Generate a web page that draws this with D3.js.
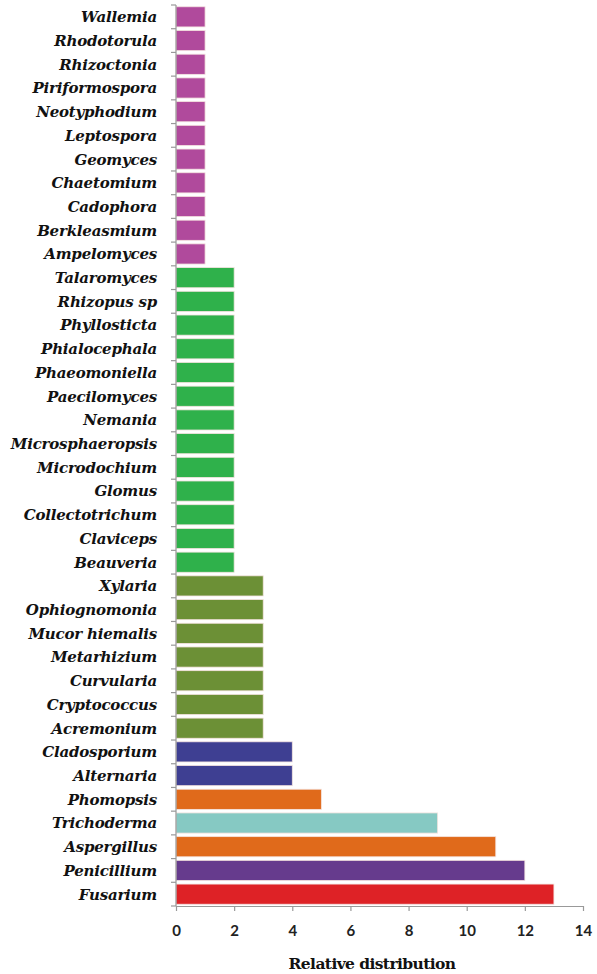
<!DOCTYPE html>
<html>
<head>
<meta charset="utf-8">
<script src="https://cdn.jsdelivr.net/npm/d3@7"></script>
<style>
  body { margin: 0; background: #fff; }
  .ylab { font-family: "DejaVu Serif", serif; font-weight: bold; font-style: italic; }
</style>
</head>
<body>
<svg id="chart"></svg>
<script>
// categories top to bottom
const genera = ["Wallemia", "Rhodotorula", "Rhizoctonia", "Piriformospora", "Neotyphodium",
  "Leptospora", "Geomyces", "Chaetomium", "Cadophora", "Berkleasmium", "Ampelomyces",
  "Talaromyces", "Rhizopus sp", "Phyllosticta", "Phialocephala", "Phaeomoniella",
  "Paecilomyces", "Nemania", "Microsphaeropsis", "Microdochium", "Glomus",
  "Collectotrichum", "Claviceps", "Beauveria",
  "Xylaria", "Ophiognomonia", "Mucor hiemalis", "Metarhizium", "Curvularia",
  "Cryptococcus", "Acremonium",
  "Cladosporium", "Alternaria", "Phomopsis", "Trichoderma", "Aspergillus",
  "Penicillium", "Fusarium"];
const values = [1, 1, 1, 1, 1, 1, 1, 1, 1, 1, 1,
  2, 2, 2, 2, 2, 2, 2, 2, 2, 2, 2, 2, 2,
  3, 3, 3, 3, 3, 3, 3,
  4, 4, 5, 9, 11, 12, 13];
const barColors = [
  "#b04a9c", "#b04a9c", "#b04a9c", "#b04a9c", "#b04a9c", "#b04a9c", "#b04a9c",
  "#b04a9c", "#b04a9c", "#b04a9c", "#b04a9c",
  "#2fb14b", "#2fb14b", "#2fb14b", "#2fb14b", "#2fb14b", "#2fb14b", "#2fb14b",
  "#2fb14b", "#2fb14b", "#2fb14b", "#2fb14b", "#2fb14b", "#2fb14b",
  "#6c9036", "#6c9036", "#6c9036", "#6c9036", "#6c9036", "#6c9036", "#6c9036",
  "#3e3f92", "#3e3f92", "#e06a1b", "#86c9c3", "#e06a1b", "#663b8d", "#de2226"];
const xTicks = [0, 2, 4, 6, 8, 10, 12, 14];

const W = 597, H = 974;
const plotLeft = 176, plotRight = 583, plotTop = 5, plotBottom = 906;

const svg = d3.select("#chart").attr("width", W).attr("height", H);

const x = d3.scaleLinear().domain([0, 14]).range([plotLeft, plotRight]);
const y = d3.scaleBand().domain(genera).range([plotTop, plotBottom]).paddingInner(0.15).paddingOuter(0.075);

// bars
svg.append("g")
  .selectAll("rect")
  .data(genera)
  .enter()
  .append("rect")
  .attr("x", x(0))
  .attr("y", d => y(d))
  .attr("width", (d, i) => x(values[i]) - x(0))
  .attr("height", y.bandwidth())
  .attr("fill", (d, i) => barColors[i])
  .attr("stroke", "#f4e3df")
  .attr("stroke-width", 0.8);

// y axis: line plus category boundary ticks
const yAxis = svg.append("g");
yAxis.append("line")
  .attr("x1", plotLeft).attr("x2", plotLeft)
  .attr("y1", plotTop).attr("y2", plotBottom)
  .attr("stroke", "#999").attr("stroke-width", 1.2);
const step = y.step();
const bounds = d3.range(genera.length + 1).map(i => plotTop + i * step);
yAxis.selectAll(".tk")
  .data(bounds)
  .enter()
  .append("line")
  .attr("x1", plotLeft - 5).attr("x2", plotLeft)
  .attr("y1", d => d).attr("y2", d => d)
  .attr("stroke", "#999").attr("stroke-width", 1.2);

yAxis.selectAll("text")
  .data(genera)
  .enter()
  .append("text")
  .attr("class", "ylab")
  .attr("x", plotLeft - 19)
  .attr("y", d => y(d) + y.bandwidth() / 2)
  .attr("dy", "0.36em")
  .attr("text-anchor", "end")
  .attr("font-size", 15)
  .attr("letter-spacing", -0.2)
  .attr("fill", "#111")
  .text(d => d);

// x axis
const xAxis = d3.axisBottom(x).tickValues(xTicks).tickSize(5).tickPadding(14).tickSizeOuter(0);
const gx = svg.append("g")
  .attr("transform", "translate(0," + plotBottom + ")")
  .call(xAxis);
gx.select(".domain").attr("stroke", "#999").attr("stroke-width", 1.2);
gx.selectAll(".tick line").attr("stroke", "#999").attr("stroke-width", 1.2);
gx.selectAll(".tick text")
  .attr("font-family", "Lato, sans-serif")
  .attr("font-weight", "bold")
  .attr("font-size", 15)
  .attr("fill", "#222");

svg.append("text")
  .attr("x", 372)
  .attr("y", 969)
  .attr("text-anchor", "middle")
  .attr("font-family", "DejaVu Serif, serif")
  .attr("font-weight", "bold")
  .attr("font-size", 15.5)
  .attr("letter-spacing", -0.6)
  .attr("fill", "#111")
  .text("Relative distribution");
</script>
</body>
</html>
